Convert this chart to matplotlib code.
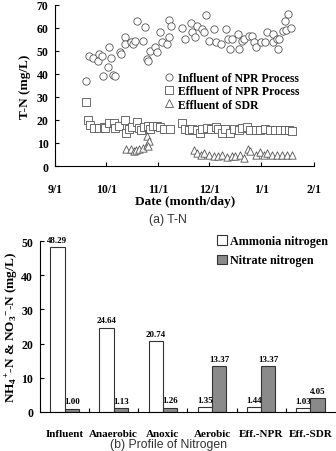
import numpy as np
import matplotlib
matplotlib.use('Agg')
import matplotlib.pyplot as plt
from matplotlib.lines import Line2D

plt.rcParams['font.family'] = 'Liberation Serif'
plt.rcParams['font.weight'] = 'bold'
plt.rcParams['mathtext.fontset'] = 'custom'
plt.rcParams['mathtext.rm'] = 'Liberation Serif:bold'
plt.rcParams['mathtext.bf'] = 'Liberation Serif:bold'

# ---- (a) T-N data : x = days after 9/1 ----
inf_day = [18, 20, 22, 25, 26, 27.5, 28, 31, 32, 33, 34, 35, 38.5, 39, 41, 41, 45, 46, 47, 48,
           52, 53, 54, 55, 56, 59, 60, 62, 63, 66, 67, 67.5, 68.5, 75, 77, 80, 81, 82.5, 84, 87,
           89, 88, 91, 94, 95, 98, 101, 102, 103.5, 104.5, 108, 108.5, 110.5, 111.5, 114.5, 116.5,
           117.5, 118.5, 121.5, 124, 125.5, 129, 129, 131, 131.5, 132.5, 135, 136, 137.5, 136.5, 139.5]
inf_tn = [37, 48, 47, 45.5, 48.5, 48, 39, 43, 51.5, 47, 39.5, 39, 49.5, 48.5, 56, 53, 54, 53, 54.5, 63,
          54.5, 60.5, 46.5, 45.5, 50, 51.5, 49.5, 58, 54, 53, 56, 63.5, 61, 60, 55, 62, 58, 56, 61, 59.5,
          65.5, 58, 54.5, 59.5, 54, 53, 59.5, 55, 51, 55, 57.5, 51, 54.5, 55, 56.5, 56.5,
          54, 51.5, 54, 54, 58, 57.5, 54, 55, 51, 55, 58.5, 63, 66, 59, 60]

eff_day = [18, 19.5, 20.5, 23, 25.5, 28.5, 29.5, 31.5, 34.5, 35.5, 37.5, 41, 41.5, 43.5, 45.5, 48.5,
           49.5, 50.5, 52.5, 55, 56, 58, 60, 62, 64, 68, 75, 77, 79, 81, 84, 85.5, 87, 90, 92, 95,
           96.5, 98.5, 100.5, 103.5, 105.5, 108.5, 110.5, 113.5, 115.5, 118.5, 121, 124, 127, 130,
           133, 136, 138.5, 140]
eff_tn = [28, 20, 18, 16.5, 16.5, 17, 16.5, 18.5, 18.5, 16.5, 17.5, 20, 14.5, 16, 17, 19,
          16.5, 15.5, 17, 17.5, 16, 17.5, 17.5, 17, 16, 16, 18.5, 16, 15.5, 16, 15.5, 14.5, 16, 16.5, 16, 17,
          16, 14.5, 16, 14.5, 16, 15.5, 16.5, 17, 15.5, 15.5, 15.5, 16, 15.5, 15.5,
          15.5, 15.5, 15.5, 15]

sdr_day = [41.5, 44.5, 46.5, 47.5, 49.5, 52, 54, 54.5, 55.5, 55, 82, 84, 86, 88, 91, 94, 96.5, 98.5,
           101.5, 104.5, 106.5, 109.5, 111.5, 114, 115.5, 118.5, 121, 123.5, 125.5, 128, 131, 134, 137, 140]
sdr_tn = [7.5, 7.5, 6.5, 7, 7.5, 8, 9, 13, 11, 8.5, 7, 5.5, 5, 5.5, 5, 4.5, 4.5, 5,
          4, 4.5, 4.5, 5, 3.5, 7.5, 6.5, 5, 6, 5, 5.5, 5, 5, 5, 5, 5]

month_pos = [0, 30, 61, 91, 122, 153]
month_lbl = ['9/1', '10/1', '11/1', '12/1', '1/1', '2/1']

# ---- (b) profile of nitrogen ----
stages = ['Influent', 'Anaerobic', 'Anoxic', 'Aerobic', 'Eff.-NPR', 'Eff.-SDR']
ammonia = [48.29, 24.64, 20.74, 1.35, 1.44, 1.03]
nitrate = [1.00, 1.13, 1.26, 13.37, 13.37, 4.05]

fig = plt.figure(figsize=(3.36, 4.52), dpi=100)

# top chart
ax1 = fig.add_axes([0.165, 0.6305, 0.769, 0.3565])
mk = dict(facecolor='white', edgecolor='#555555', linewidths=0.6, s=28, zorder=3)
ax1.scatter(inf_day, inf_tn, marker='o', **mk)
ax1.scatter(eff_day, eff_tn, marker='s', **mk)
ax1.scatter(sdr_day, sdr_tn, marker='^', **mk)
ax1.set_xlim(0, 153)
ax1.set_ylim(0, 70)
ax1.set_xticks(month_pos)
ax1.set_xticklabels(month_lbl)
ax1.set_yticks(range(0, 71, 10))
ax1.tick_params(direction='in', labelsize=8.5, length=3, width=0.8)
ax1.tick_params(axis='x', pad=12)
ax1.tick_params(axis='y', pad=5)
for s in ['top', 'right']:
    ax1.spines[s].set_visible(False)
for s in ['left', 'bottom']:
    ax1.spines[s].set_linewidth(0.8)
ax1.set_ylabel('T-N (mg/L)', fontsize=9.5, fontweight='bold', labelpad=4)
ax1.set_xlabel('Date (month/day)', fontsize=9.5, fontweight='bold', labelpad=0)

h = [Line2D([], [], ls='none', marker=m, ms=5.2, mfc='white', mec='#555555', mew=0.6)
     for m in ['o', 's', '^']]
ax1.legend(h, ['Influent of NPR Process', 'Effluent of NPR Process', 'Effluent of SDR'],
           loc='upper left', bbox_to_anchor=(0.42, 0.585), frameon=False, fontsize=8.5,
           handlelength=0.8, handletextpad=0.4, labelspacing=0.12, borderpad=0, borderaxespad=0)

fig.text(0.5, 1 - 220 / 452, '(a) T-N', ha='center', va='center', fontsize=8.8,
         family='Liberation Sans', fontweight='normal', color='#333333')

# bottom chart
ax2 = fig.add_axes([0.119, 0.0863, 0.878, 0.378])
x = np.arange(len(stages))
w = 0.29
b1 = ax2.bar(x - w / 2, ammonia, w, color='white', edgecolor='#333333', linewidth=0.8,
             label='Ammonia nitrogen')
b2 = ax2.bar(x + w / 2, nitrate, w, color='#8a8a8a', edgecolor='#333333', linewidth=0.8,
             label='Nitrate nitrogen')
for bars, vals in [(b1, ammonia), (b2, nitrate)]:
    for r, v in zip(bars, vals):
        ax2.text(r.get_x() + r.get_width() / 2, v + 1.0, '%.2f' % v, ha='center', va='bottom',
                 fontsize=6.5, fontweight='bold')
ax2.set_xlim(-0.5, len(stages) - 0.5)
ax2.set_ylim(0, 50)
ax2.set_yticks(range(0, 51, 10))
ax2.set_xticks(x)
ax2.set_xticklabels(stages)
ax2.set_xticks(np.arange(0.5, len(stages) - 0.5, 1), minor=True)
ax2.tick_params(axis='x', which='major', length=0, pad=12, labelsize=8)
ax2.tick_params(axis='x', which='minor', direction='in', length=3, width=0.8)
ax2.tick_params(axis='y', direction='in', length=3, width=0.8, labelsize=8.5, pad=5)
for s in ['top', 'right']:
    ax2.spines[s].set_visible(False)
for s in ['left', 'bottom']:
    ax2.spines[s].set_linewidth(0.8)
ax2.set_ylabel(r'NH$_{4}$$^{+}$-N & NO$_{3}$$^{-}$-N (mg/L)', fontsize=9.5, fontweight='bold',
               labelpad=1)
ax2.legend(loc='upper left', bbox_to_anchor=(0.6, 1.035), frameon=False, fontsize=8.7,
           handlelength=0.8, handleheight=0.8, handletextpad=0.3, labelspacing=0.6,
           borderpad=0, borderaxespad=0)

fig.text(0.5, 1 - 445 / 452, '(b) Profile of Nitrogen', ha='center', va='center', fontsize=8.8,
         family='Liberation Sans', fontweight='normal', color='#333333')

fig.savefig('out.png', dpi=100)
